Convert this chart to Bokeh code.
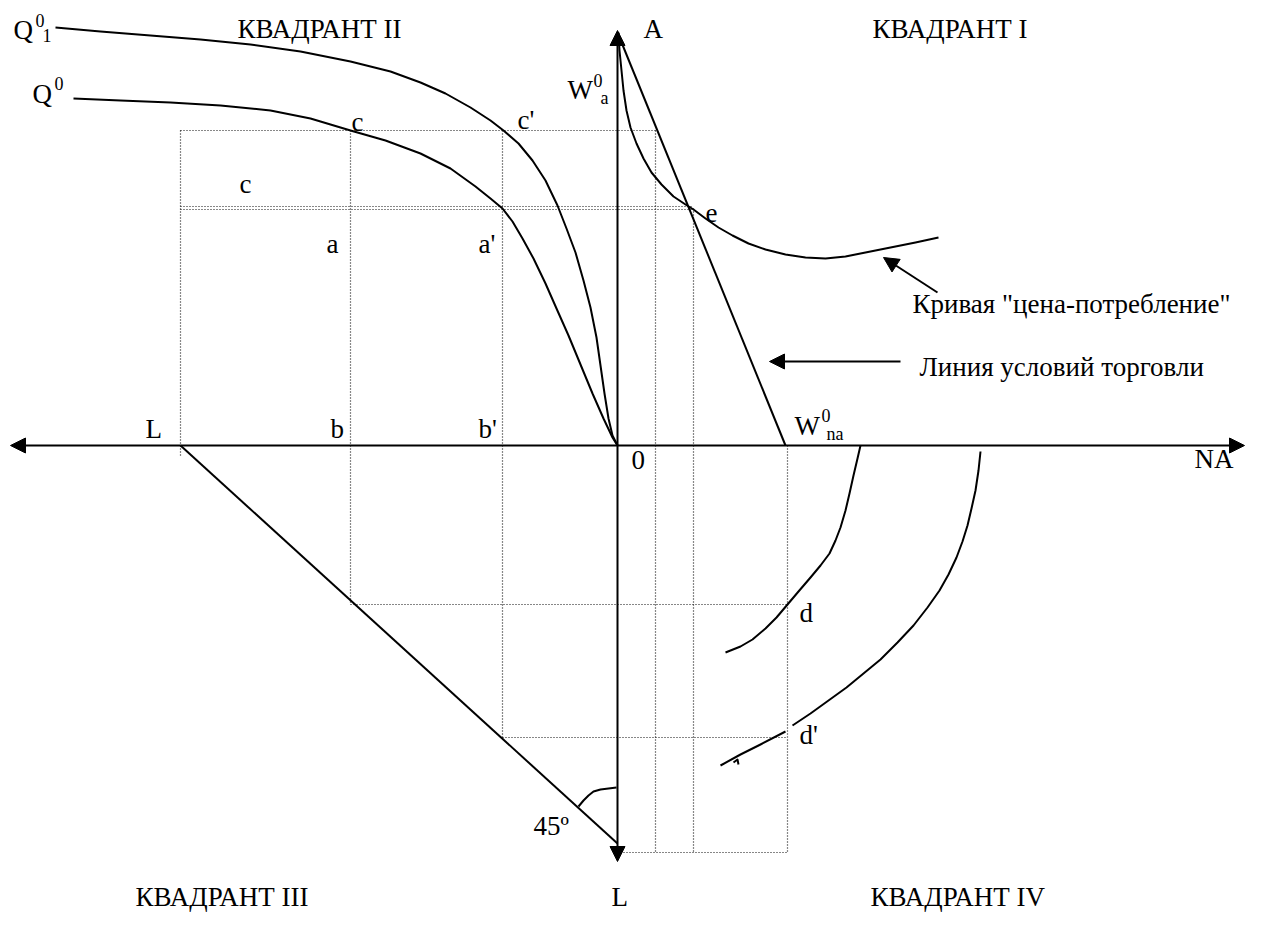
from bokeh.plotting import figure
from bokeh.models import Range1d, Arrow, NormalHead, ColumnDataSource
from bokeh.core.properties import value
from bokeh.embed import file_html
from bokeh.resources import INLINE

# ---- diagram data (pixel coordinates) ----
origin = (617, 445)
h_axis_x = [10, 1244]
v_axis_y = [30, 861]

# Q0_1 (outer) production curve
q01_x = [55, 100, 150, 200, 250, 300, 350, 390, 420, 445, 470, 490, 503, 518, 532, 545,
         557, 566, 575, 583, 590, 596, 600, 604, 608, 612, 617]
q01_y = [27, 31, 35, 39, 44, 51, 61, 71, 82, 93, 107, 120, 130, 143, 160, 180,
         205, 228, 252, 280, 307, 337, 365, 393, 418, 435, 445]
# Q0 (inner) production curve
q0_x = [73, 120, 170, 220, 270, 310, 350, 385, 420, 450, 475, 490, 502, 512, 522, 533,
        545, 556, 568, 580, 592, 603, 612, 617]
q0_y = [98, 100, 102, 105, 110, 118, 130, 140, 153, 168, 186, 198, 208, 221, 238, 258,
        283, 308, 335, 364, 393, 418, 437, 445]
# price-consumption curve
pcc_x = [618, 619, 621, 623, 626, 630, 636, 643, 651, 661, 673, 685, 693, 705, 718, 732,
         748, 765, 785, 805, 825, 845, 865, 890, 915, 938]
pcc_y = [32, 50, 70, 90, 110, 127, 143, 158, 172, 184, 196, 204, 209, 218, 227, 235,
         243, 249, 254, 257, 258, 256, 252, 247, 242, 237]
# terms of trade line
tot_x = [617, 785]
tot_y = [32, 445]
# 45 degree line
l45_x = [180, 617]
l45_y = [445, 843]
# quadrant IV curves
d_x = [860, 857, 853, 849, 845, 840, 835, 829, 820, 810, 798, 787, 776, 765, 752, 740, 725]
d_y = [445, 458, 475, 493, 510, 527, 540, 553, 565, 577, 591, 604, 617, 628, 639, 646, 652]
dp1_x = [980, 978, 975, 971, 967, 962, 956, 948, 939, 927, 913, 897, 880, 863, 846, 828, 810, 792]
dp1_y = [451, 470, 490, 508, 525, 541, 557, 574, 590, 607, 625, 642, 659, 673, 687, 700, 713, 725]
dp2_x = [785, 760, 740, 720]
dp2_y = [731, 744, 754, 765]
tick_x = [733, 737, 738]
tick_y = [762, 759, 764]
# angle arc
arc_x = [578, 583, 588, 593, 600, 608, 616]
arc_y = [806, 800, 795, 791, 789, 788, 787]

# dotted guide lines: (x0, y0, x1, y1)
guides = [
    (180, 130, 655, 130), (180, 206, 693, 206), (180, 209, 693, 209),
    (180, 130, 180, 455), (350, 130, 350, 604), (502, 130, 502, 737),
    (655, 130, 655, 852), (693, 208, 693, 852), (787, 445, 787, 852),
    (350, 604, 787, 604), (502, 737, 787, 737), (620, 852, 787, 852),
]

# labels: (text, left x, center y, size)
big = "27px"
small = "18px"
labels = [
    ("Q", 13, 29, big), ("0", 35, 20, small), ("1", 42, 35, small),
    ("Q", 32, 93, big), ("0", 54, 83, small),
    ("КВАДРАНТ II", 237, 28, big), ("A", 643, 28, big), ("КВАДРАНТ I", 872, 28, big),
    ("W", 567, 89, big), ("0", 593, 80, small), ("a", 600, 97, small),
    ("c", 351, 121, big), ("c'", 517, 119, big), ("c", 239, 183, big),
    ("e", 705, 212, big), ("a", 326, 243, big), ("a'", 478, 243, big),
    ("Кривая \"цена-потребление\"", 912, 303, big),
    ("Линия условий торговли", 919, 366, big),
    ("L", 145, 428, big), ("b", 330, 428, big), ("b'", 478, 428, big),
    ("W", 794, 425, big), ("0", 821, 415, small), ("na", 826, 433, small),
    ("0", 631, 459, big), ("NA", 1194, 458, big),
    ("d", 799, 612, big), ("d'", 799, 734, big),
    ("45º", 533, 825, big),
    ("КВАДРАНТ III", 135, 896, big), ("L", 611, 896, big), ("КВАДРАНТ IV", 870, 896, big),
]

# ---- figure ----
p = figure(width=1246, height=912, output_backend="svg", toolbar_location=None,
           x_range=Range1d(0, 1246), y_range=Range1d(912, 0),
           min_border=0, min_border_left=0, min_border_right=0,
           min_border_top=0, min_border_bottom=0)
p.axis.visible = False
p.grid.visible = False
p.outline_line_color = None
p.background_fill_color = "white"
p.border_fill_color = "white"

# guides
for x0, y0, x1, y1 in guides:
    p.line([x0, x1], [y0, y1], line_color="#111111", line_width=1.2, line_dash="1 2")

# curves
for xs, ys in [(q01_x, q01_y), (q0_x, q0_y), (pcc_x, pcc_y), (tot_x, tot_y),
               (l45_x, l45_y), (d_x, d_y), (dp1_x, dp1_y), (dp2_x, dp2_y),
               (arc_x, arc_y), (tick_x, tick_y)]:
    p.line(xs, ys, line_color="black", line_width=2, line_join="round")

def head():
    return NormalHead(size=15, fill_color="black", line_color="black")

# axes with arrowheads
p.add_layout(Arrow(start=head(), end=head(),
                   x_start=h_axis_x[0], y_start=origin[1], x_end=h_axis_x[1], y_end=origin[1],
                   line_width=2))
p.add_layout(Arrow(start=head(), end=head(),
                   x_start=origin[0], y_start=v_axis_y[0], x_end=origin[0], y_end=v_axis_y[1],
                   line_width=2))
# annotation arrows
p.add_layout(Arrow(end=head(), x_start=937, y_start=292, x_end=883, y_end=257, line_width=2))
p.add_layout(Arrow(end=head(), x_start=900, y_start=361, x_end=769, y_end=361, line_width=2))

# labels
for size in (big, small):
    items = [l for l in labels if l[3] == size]
    src = ColumnDataSource(dict(t=[l[0] for l in items], x=[l[1] for l in items],
                                y=[l[2] for l in items]))
    p.text(x="x", y="y", text="t", source=src, text_font=value("Liberation Serif"),
           text_font_size=size, text_align="left", text_baseline="middle",
           text_color="black")

open("out.html", "w").write(file_html(p, INLINE))
